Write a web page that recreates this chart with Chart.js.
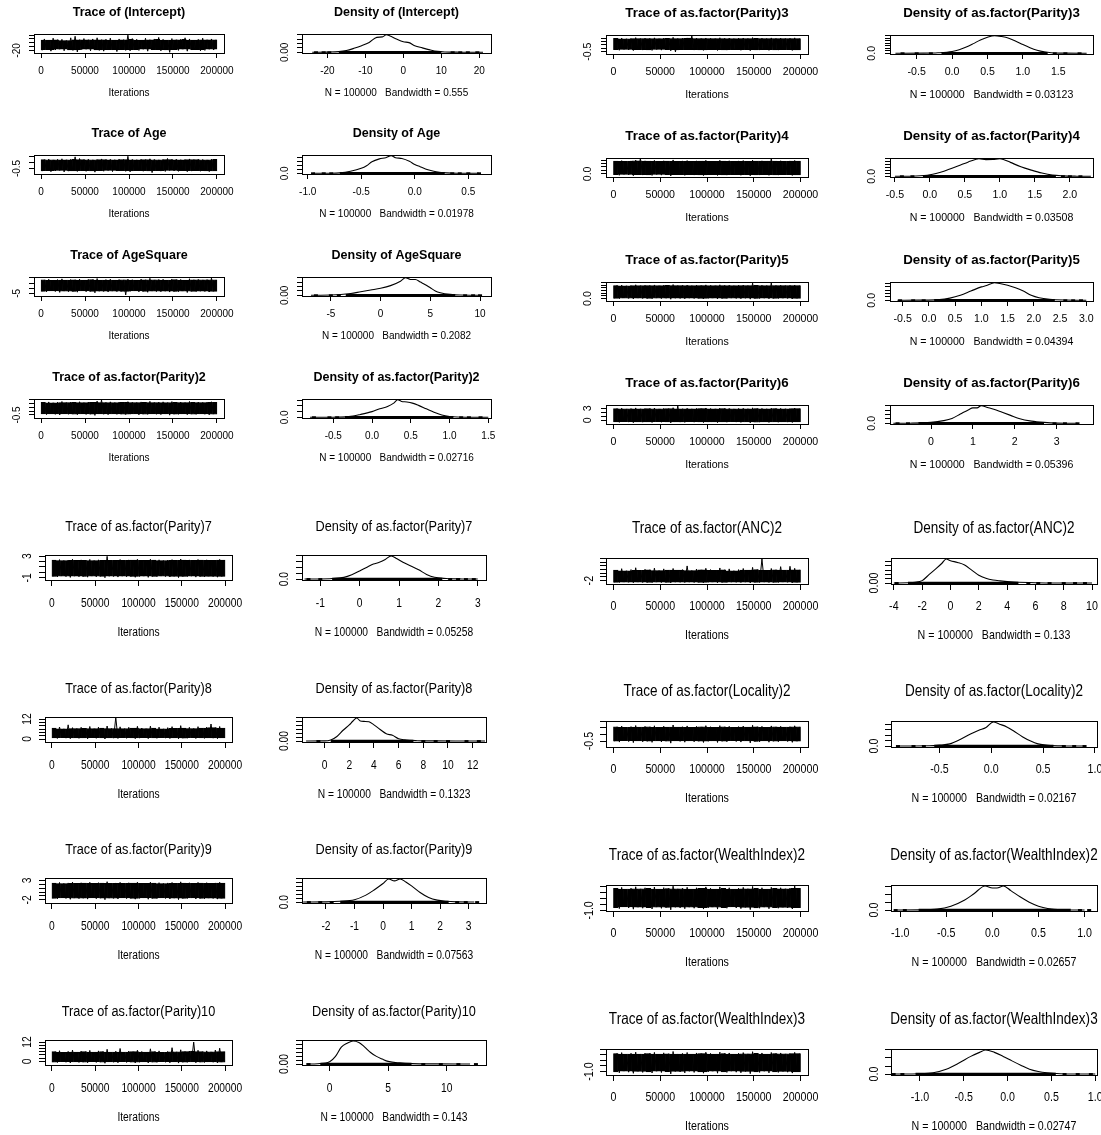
<!DOCTYPE html>
<html><head><meta charset="utf-8">
<script src="https://cdn.jsdelivr.net/npm/chart.js"></script>
<style>
html,body{margin:0;padding:0;background:#fff;width:1101px;height:1135px;overflow:hidden;position:relative}
canvas{position:absolute}
</style></head><body>
<script>
// ---------------- DATA ----------------
const ITER_TICKS = ["0","50000","100000","150000","200000"];
const ITER_RANGE = [-8000, 208000];
const BIN_X = [2500,7500,12500,17500,22500,27500,32500,37500,42500,47500,52500,57500,62500,67500,72500,77500,82500,87500,92500,97500,102500,107500,112500,117500,122500,127500,132500,137500,142500,147500,152500,157500,162500,167500,172500,177500,182500,187500,192500,197500];

// (Intercept)
const INT_lo = [-20,-18,-22,-19,-17,-21,-19,-20,-24,-18,-17,-21,-19,-20,-22,-18,-19,-23,-18,-20,-21,-18,-20,-17,-22,-19,-18,-21,-19,-25,-18,-20,-17,-22,-19,-18,-21,-20,-17,-19];
const INT_hi = [10,7,12,8,9,6,13,17,8,11,8,10,13,8,9,12,7,10,8,20,11,9,7,12,8,10,14,9,7,11,8,9,13,10,7,9,12,8,10,8];
const INT_yr = [-26.8, 23];
const INT_ty = ["-20","-10","0","10","20"];
const INT_tyl = ["-20"];
const INT_dx = [-24,-20,-17,-15,-13,-11,-9,-7,-5.5,-4.5,-3.5,-2,0,1.5,3,5,7,9,11,15,21];
const INT_dy = [0.0003,0.001,0.003,0.008,0.018,0.03,0.045,0.068,0.07,0.08,0.074,0.062,0.048,0.044,0.03,0.02,0.011,0.004,0.0015,0.0005,0.0002];
const INT_xr = [-26.7, 23.1];
const INT_xt = ["-20","-10","0","10","20"];
const INT_dyt = ["0.00","0.02","0.04","0.06","0.08"];
const INT_rug = [-17, 10];
const INT_tail = [-23,-21,-19.5,13,15,17,19.5];

// Age
const AGE_lo = [-0.74,-0.70,-0.78,-0.72,-0.68,-0.80,-0.73,-0.71,-0.76,-0.69,-0.75,-0.72,-0.82,-0.70,-0.74,-0.68,-0.77,-0.72,-0.70,-0.75,-0.79,-0.71,-0.69,-0.74,-0.72,-0.86,-0.70,-0.73,-0.76,-0.68,-0.72,-0.75,-0.70,-0.78,-0.73,-0.69,-0.74,-0.71,-0.77,-0.72];
const AGE_hi = [0.26,0.30,0.24,0.28,0.33,0.25,0.29,0.50,0.35,0.26,0.30,0.24,0.28,0.32,0.26,0.29,0.25,0.31,0.27,0.55,0.28,0.25,0.30,0.26,0.33,0.28,0.24,0.29,0.36,0.27,0.30,0.25,0.28,0.32,0.26,0.29,0.27,0.24,0.30,0.28];
const AGE_yr = [-0.98, 0.66];
const AGE_ty = ["-0.5","0.0","0.5"];
const AGE_tyl = ["-0.5"];
const AGE_dx = [-0.95,-0.8,-0.7,-0.6,-0.5,-0.45,-0.4,-0.33,-0.27,-0.22,-0.18,-0.12,-0.05,0.0,0.05,0.1,0.15,0.2,0.3,0.4,0.6];
const AGE_dy = [0.003,0.01,0.05,0.25,0.62,0.95,1.45,1.8,1.95,2.2,1.95,1.85,1.5,1.1,0.82,0.55,0.35,0.2,0.05,0.01,0.003];
const AGE_xr = [-1.053, 0.712];
const AGE_xt = ["-1.0","-0.5","0.0","0.5"];
const AGE_dyt = ["0.0","0.5","1.0","1.5","2.0"];
const AGE_rug = [-0.7, 0.28];
const AGE_tail = [-0.95,-0.85,-0.78,0.35,0.42,0.5,0.6];

// AgeSquare
const AGS_lo = [-3.0,-3.5,-2.6,-3.2,-4.0,-2.8,-3.3,-3.1,-3.8,-2.7,-3.4,-3.0,-4.4,-2.9,-3.2,-3.6,-2.8,-3.3,-3.0,-6.5,-3.1,-2.7,-3.5,-3.0,-3.9,-2.8,-3.2,-3.4,-2.9,-3.7,-3.1,-3.3,-2.8,-4.1,-3.0,-3.4,-2.9,-3.2,-3.6,-3.0];
const AGS_hi = [8.0,8.6,7.7,8.3,9.0,7.9,8.4,8.1,8.8,7.8,8.5,8.2,9.3,7.9,8.3,8.7,7.8,8.4,8.0,8.6,8.2,7.9,8.8,8.1,9.5,8.0,8.3,8.6,7.9,8.9,8.2,8.4,7.8,9.1,8.1,8.5,8.0,8.3,9.8,8.0];
const AGS_yr = [-7.5, 10.8];
const AGS_ty = ["-5","0","5","10"];
const AGS_tyl = ["-5"];
const AGS_dx = [-7,-5,-3,-2,-1,0,1,2,2.5,3,3.5,4,4.5,5,5.5,6,7,8,10];
const AGS_dy = [0.001,0.003,0.02,0.04,0.06,0.08,0.11,0.16,0.2,0.18,0.18,0.15,0.12,0.085,0.05,0.03,0.01,0.003,0.001];
const AGS_xr = [-7.9, 11.1];
const AGS_xt = ["-5","0","5","10"];
const AGS_dyt = ["0.00","0.05","0.10","0.15","0.20"];
const AGS_rug = [-3.5, 7.5];
const AGS_tail = [-6.5,-5,-4.2,8.5,9.3,10];

// as.factor(Parity)2
const P2_lo = [-0.38,-0.45,-0.35,-0.42,-0.50,-0.37,-0.41,-0.39,-0.47,-0.36,-0.43,-0.40,-0.55,-0.37,-0.41,-0.46,-0.36,-0.42,-0.39,-0.44,-0.40,-0.36,-0.48,-0.39,-0.43,-0.37,-0.41,-0.45,-0.38,-0.52,-0.40,-0.42,-0.36,-0.46,-0.39,-0.43,-0.37,-0.41,-0.47,-0.39];
const P2_hi = [1.10,1.15,1.05,1.12,1.20,1.07,1.13,1.09,1.17,1.06,1.14,1.11,1.25,1.40,1.08,1.16,1.06,1.13,1.09,1.18,1.10,1.07,1.15,1.09,1.22,1.08,1.12,1.16,1.06,1.19,1.10,1.13,1.07,1.21,1.09,1.14,1.08,1.12,1.17,1.09];
const P2_yr = [-0.88, 1.52];
const P2_ty = ["-0.5","0.0","0.5","1.0","1.5"];
const P2_tyl = ["-0.5"];
const P2_dx = [-0.8,-0.5,-0.3,-0.15,0,0.1,0.2,0.28,0.33,0.38,0.45,0.52,0.6,0.7,0.8,0.9,1.0,1.1,1.3,1.5];
const P2_dy = [0.002,0.01,0.06,0.25,0.5,0.75,0.95,1.25,1.55,1.4,1.35,1.25,1.05,0.75,0.45,0.2,0.07,0.02,0.005,0.002];
const P2_xr = [-0.904, 1.535];
const P2_xt = ["-0.5","0.0","0.5","1.0","1.5"];
const P2_dyt = ["0.0","0.5","1.0","1.5"];
const P2_rug = [-0.35, 1.05];
const P2_tail = [-0.75,-0.55,-0.45,1.15,1.25,1.4];

// as.factor(Parity)3
const P3_lo = [-0.22,-0.30,-0.18,-0.26,-0.34,-0.20,-0.27,-0.24,-0.32,-0.19,-0.28,-0.23,-0.38,-0.55,-0.26,-0.21,-0.20,-0.27,-0.24,-0.31,-0.25,-0.21,-0.33,-0.24,-0.28,-0.20,-0.26,-0.30,-0.22,-0.36,-0.25,-0.27,-0.21,-0.31,-0.24,-0.28,-0.22,-0.26,-0.32,-0.24];
const P3_hi = [1.45,1.50,1.40,1.47,1.56,1.42,1.48,1.44,1.53,1.41,1.49,1.46,1.60,1.43,1.47,1.52,1.85,1.48,1.44,1.51,1.45,1.42,1.54,1.44,1.49,1.41,1.47,1.51,1.43,1.57,1.45,1.48,1.42,1.52,1.44,1.49,1.43,1.47,1.53,1.44];
const P3_yr = [-0.85, 1.95];
const P3_ty = ["-0.5","0.0","0.5","1.0","1.5"];
const P3_tyl = ["-0.5"];
const P3_dx = [-0.8,-0.4,-0.2,0,0.1,0.2,0.3,0.4,0.5,0.6,0.7,0.8,0.9,1.0,1.1,1.2,1.3,1.4,1.6,1.9];
const P3_dy = [0.002,0.01,0.04,0.14,0.28,0.5,0.78,1.08,1.3,1.42,1.35,1.22,0.98,0.7,0.45,0.25,0.12,0.05,0.01,0.002];
const P3_xr = [-0.877, 1.99];
const P3_xt = ["-0.5","0.0","0.5","1.0","1.5"];
const P3_dyt = ["0.0","0.2","0.4","0.6","0.8","1.0","1.2","1.4"];
const P3_rug = [-0.15, 1.35];
const P3_tail = [-0.7,-0.5,-0.3,1.45,1.6,1.8];

// as.factor(Parity)4
const P4_lo = [-0.12,-0.20,-0.08,-0.16,-0.26,-0.10,-0.17,-0.14,-0.22,-0.09,-0.18,-0.13,-0.30,-0.11,-0.16,-0.21,-0.10,-0.17,-0.14,-0.24,-0.15,-0.11,-0.23,-0.14,-0.18,-0.10,-0.16,-0.20,-0.12,-0.28,-0.15,-0.17,-0.11,-0.21,-0.14,-0.18,-0.12,-0.16,-0.22,-0.14];
const P4_hi = [1.85,1.92,1.80,1.88,1.98,2.25,1.89,1.84,1.95,1.81,1.90,1.86,2.02,1.83,1.88,1.93,1.81,1.89,1.85,1.96,1.86,1.82,1.97,1.85,1.90,1.81,1.88,1.93,1.83,1.99,1.86,1.89,1.84,2.25,1.85,1.90,1.83,1.88,1.94,1.85];
const P4_yr = [-0.45, 2.3];
const P4_ty = ["0.0","0.5","1.0","1.5","2.0"];
const P4_tyl = ["0.0"];
const P4_dx = [-0.5,-0.2,0,0.2,0.4,0.55,0.65,0.7,0.8,0.9,1.0,1.05,1.15,1.3,1.45,1.6,1.75,1.9,2.1,2.3];
const P4_dy = [0.002,0.02,0.1,0.35,0.7,0.98,1.15,1.2,1.14,1.15,1.2,1.15,0.95,0.65,0.42,0.22,0.08,0.03,0.008,0.002];
const P4_xr = [-0.57, 2.33];
const P4_xt = ["-0.5","0.0","0.5","1.0","1.5","2.0"];
const P4_dyt = ["0.0","0.2","0.4","0.6","0.8","1.0","1.2"];
const P4_rug = [-0.1, 1.8];
const P4_tail = [-0.4,-0.25,1.9,2.0,2.15];

// as.factor(Parity)5
const P5_lo = [0.05,-0.03,0.10,0.02,-0.08,0.08,0.01,0.04,-0.05,0.09,0.00,0.06,-0.12,0.07,0.02,-0.04,0.08,0.01,0.04,-0.06,0.03,0.08,-0.07,0.04,0.00,0.09,0.02,-0.03,0.06,-0.10,0.03,0.01,0.07,-0.04,0.04,0.00,0.06,0.02,-0.05,0.04];
const P5_hi = [2.45,2.52,2.40,2.48,2.58,2.42,2.49,2.44,2.55,2.41,2.50,2.46,2.62,2.43,2.48,2.53,2.41,2.49,2.45,2.56,2.46,2.42,2.57,2.45,2.50,2.41,2.48,2.53,2.43,2.90,2.46,2.49,2.42,2.95,2.45,2.50,2.43,2.48,2.54,2.45];
const P5_yr = [-0.45, 3.1];
const P5_ty = ["0.0","0.5","1.0","1.5","2.0","2.5","3.0"];
const P5_tyl = ["0.0"];
const P5_dx = [-0.6,-0.2,0.2,0.4,0.6,0.8,1.0,1.1,1.25,1.35,1.5,1.65,1.8,1.95,2.1,2.3,2.6,3.0];
const P5_dy = [0.002,0.01,0.04,0.13,0.3,0.55,0.8,0.88,1.05,1.0,0.9,0.75,0.55,0.3,0.15,0.06,0.015,0.003];
const P5_xr = [-0.742, 3.128];
const P5_xt = ["-0.5","0.0","0.5","1.0","1.5","2.0","2.5","3.0"];
const P5_dyt = ["0.0","0.2","0.4","0.6","0.8","1.0"];
const P5_rug = [0.1, 2.4];
const P5_tail = [-0.55,-0.3,-0.1,2.6,2.75,2.9];

// as.factor(Parity)6
const P6_lo = [-0.40,-0.50,-0.33,-0.43,-0.56,-0.36,-0.45,-0.40,-0.52,-0.34,-0.46,-0.39,-0.62,-0.37,-0.43,-0.50,-0.35,-0.45,-0.41,-0.54,-0.42,-0.36,-0.55,-0.41,-0.46,-0.34,-0.43,-0.49,-0.38,-0.60,-0.42,-0.45,-0.36,-0.51,-0.41,-0.46,-0.38,-0.43,-0.52,-0.41];
const P6_hi = [2.90,3.00,2.83,2.93,3.08,2.86,2.95,2.90,3.04,2.84,2.96,2.89,3.12,3.65,2.87,3.00,2.85,2.95,2.91,3.06,2.92,2.86,3.05,2.91,2.96,2.84,2.93,2.99,2.88,3.10,2.92,2.95,2.86,3.01,2.91,2.96,2.88,2.93,3.02,2.91];
const P6_yr = [-0.9, 3.8];
const P6_ty = ["0","1","2","3"];
const P6_tyl = ["0","3"];
const P6_dx = [-0.9,-0.5,0,0.3,0.5,0.7,0.9,1.0,1.1,1.2,1.35,1.5,1.7,1.9,2.1,2.4,2.7,3.0,3.5];
const P6_dy = [0.001,0.005,0.04,0.12,0.22,0.42,0.62,0.7,0.7,0.8,0.72,0.64,0.5,0.36,0.22,0.1,0.04,0.01,0.002];
const P6_xr = [-0.98, 3.87];
const P6_xt = ["0","1","2","3"];
const P6_dyt = ["0.0","0.2","0.4","0.6","0.8"];
const P6_rug = [-0.3, 2.7];
const P6_tail = [-0.8,-0.55,2.95,3.2,3.5];

// as.factor(Parity)7
const P7_lo = [-0.75,-0.85,-0.68,-0.78,-0.92,-0.70,-0.80,-0.74,-0.88,-0.69,-0.81,-0.73,-0.98,-0.71,-0.77,-0.86,-0.70,-0.80,-0.75,-0.90,-0.76,-0.70,-0.91,-0.75,-0.81,-0.68,-0.77,-0.84,-0.72,-0.96,-0.76,-0.80,-0.70,-0.87,-0.75,-0.81,-0.72,-0.77,-0.88,-0.75];
const P7_hi = [2.25,2.35,2.18,2.28,2.42,2.20,2.30,2.24,2.38,2.19,2.31,2.23,2.95,2.21,2.27,2.36,2.20,2.30,2.25,2.40,2.26,2.20,2.41,2.25,2.31,2.18,2.27,2.34,2.22,2.46,2.26,2.30,2.20,2.37,2.25,2.31,2.22,2.27,2.38,2.25];
const P7_yr = [-1.4, 3.2];
const P7_ty = ["-1","0","1","2","3"];
const P7_tyl = ["-1","3"];
const P7_dx = [-1.4,-1,-0.7,-0.4,-0.2,0,0.2,0.35,0.5,0.65,0.8,0.95,1.1,1.3,1.5,1.7,1.9,2.2,2.6,3.0];
const P7_dy = [0.001,0.005,0.02,0.06,0.15,0.28,0.42,0.52,0.58,0.68,0.8,0.7,0.58,0.45,0.32,0.16,0.06,0.02,0.005,0.002];
const P7_xr = [-1.465, 3.21];
const P7_xt = ["-1","0","1","2","3"];
const P7_dyt = ["0.0","0.2","0.4","0.6","0.8"];
const P7_rug = [-0.7, 2.1];
const P7_tail = [-1.3,-1.0,2.3,2.5,2.7,2.9];

// as.factor(Parity)8
const P8_lo = [0.6,0.3,0.8,0.5,0.2,0.7,0.4,0.6,0.1,0.8,0.4,0.6,0.0,0.7,0.5,0.3,0.8,0.4,0.6,0.2,0.5,0.8,0.2,0.6,0.4,0.8,0.5,0.3,0.7,0.1,0.5,0.4,0.8,0.3,0.6,0.4,0.7,0.5,0.2,0.6];
const P8_hi = [6.5,7.2,6.1,8.5,6.8,6.3,7.0,6.4,7.5,6.2,7.1,6.6,7.8,6.3,13.0,7.3,6.2,7.0,6.5,7.6,6.6,6.2,7.7,6.5,7.1,6.1,6.8,7.4,6.4,8.0,6.6,7.0,6.3,7.4,6.5,7.1,9.0,6.8,7.5,6.5];
const P8_yr = [-1.8, 13.2];
const P8_ty = ["0","2","4","6","8","10","12"];
const P8_tyl = ["0","12"];
const P8_dx = [-1.5,0,0.5,1,1.5,2,2.3,2.6,2.9,3.2,3.6,4,4.5,5,5.5,6,6.5,7.5,9,11,13];
const P8_dy = [0.0005,0.002,0.015,0.06,0.14,0.21,0.26,0.30,0.26,0.255,0.25,0.21,0.15,0.095,0.075,0.03,0.015,0.005,0.002,0.001,0.0005];
const P8_xr = [-1.83, 13.08];
const P8_xt = ["0","2","4","6","8","10","12"];
const P8_dyt = ["0.00","0.05","0.10","0.15","0.20","0.25","0.30"];
const P8_rug = [0.5, 7.2];
const P8_tail = [-0.5,8,9,10,11.5,12.5];

// as.factor(Parity)9
const P9_lo = [-1.60,-1.75,-1.50,-1.64,-1.85,-1.54,-1.68,-1.58,-1.80,-1.52,-1.70,-1.57,-1.95,-1.55,-1.63,-1.78,-1.52,-1.68,-1.60,-1.82,-1.62,-1.53,-1.83,-1.60,-1.70,-1.50,-1.64,-1.75,-1.56,-1.92,-1.62,-1.68,-1.53,-1.78,-1.60,-1.70,-1.56,-1.64,-1.80,-1.60];
const P9_hi = [2.30,2.45,2.20,2.34,2.55,2.24,2.38,2.28,2.50,2.22,2.40,2.27,2.65,2.25,2.33,2.48,2.22,2.38,2.30,2.52,2.32,2.23,2.53,2.30,2.40,2.20,2.34,2.45,2.26,2.62,2.32,2.38,2.23,2.48,2.30,2.40,2.26,2.34,2.50,2.30];
const P9_yr = [-2.8, 3.6];
const P9_ty = ["-2","-1","0","1","2","3"];
const P9_tyl = ["-2","3"];
const P9_dx = [-2.8,-2,-1.5,-1,-0.6,-0.3,0,0.2,0.4,0.6,0.8,1.0,1.3,1.6,1.9,2.2,2.6,3.2];
const P9_dy = [0.001,0.005,0.02,0.06,0.18,0.32,0.48,0.6,0.55,0.6,0.52,0.42,0.25,0.12,0.05,0.02,0.005,0.001];
const P9_xr = [-2.84, 3.61];
const P9_xt = ["-2","-1","0","1","2","3"];
const P9_dyt = ["0.0","0.1","0.2","0.3","0.4","0.5","0.6"];
const P9_rug = [-1.5, 2.3];
const P9_tail = [-2.6,-2.2,-1.8,2.6,2.9,3.3];

// as.factor(Parity)10
const P10_lo = [-0.5,-0.8,-0.3,-0.6,-1.0,-0.4,-0.7,-0.5,-0.9,-0.3,-0.7,-0.5,-1.2,-0.4,-0.6,-0.9,-0.3,-0.7,-0.5,-1.0,-0.6,-0.4,-1.0,-0.5,-0.7,-0.3,-0.6,-0.9,-0.4,-1.1,-0.6,-0.7,-0.4,-0.9,-0.5,-0.7,-0.4,-0.6,-0.9,-0.5];
const P10_hi = [6.0,6.6,5.6,6.2,7.0,5.8,6.4,6.0,6.8,5.7,6.5,6.0,7.5,5.8,6.3,8.0,5.7,6.4,6.0,6.9,6.1,5.8,7.8,6.0,6.5,5.6,6.2,8.5,5.9,7.2,6.1,6.4,12.0,6.9,6.0,6.5,5.9,7.0,8.2,6.0];
const P10_yr = [-2.3, 13.3];
const P10_ty = ["0","2","4","6","8","10","12"];
const P10_tyl = ["0","12"];
const P10_dx = [-2,-1,0,0.5,1,1.5,2,2.5,3,3.5,4,4.5,5,6,7,9,12];
const P10_dy = [0.001,0.005,0.03,0.1,0.22,0.27,0.3,0.28,0.22,0.15,0.1,0.065,0.035,0.015,0.006,0.002,0.001];
const P10_xr = [-2.36, 13.36];
const P10_xt = ["0","5","10"];
const P10_dyt = ["0.00","0.05","0.10","0.15","0.20","0.25","0.30"];
const P10_rug = [-0.8, 7];
const P10_tail = [-1.8,8,9.5,11,12.5];

// as.factor(ANC)2
const ANC_lo = [-2.9,-3.0,-2.8,-2.9,-3.1,-2.8,-3.0,-2.9,-3.1,-2.8,-3.0,-2.9,-3.2,-2.8,-2.9,-3.0,-2.8,-3.0,-2.9,-3.1,-2.9,-2.8,-3.1,-2.9,-3.0,-2.8,-2.9,-3.0,-2.8,-3.2,-2.9,-3.0,-2.8,-3.0,-2.9,-3.0,-2.8,-2.9,-3.1,-2.9];
const ANC_hi = [3.8,4.5,3.4,4.0,5.0,3.6,4.2,3.9,4.8,3.5,4.4,3.8,4.6,3.7,4.0,6.0,3.5,4.3,3.9,4.7,4.0,3.6,4.9,3.9,4.4,3.4,4.0,4.6,3.7,5.2,4.0,9.8,3.6,4.6,3.9,5.6,3.7,5.8,4.7,3.9];
const ANC_yr = [-3.8, 10.3];
const ANC_ty = ["-2","0","2","4","6","8","10"];
const ANC_tyl = ["-2"];
const ANC_dx = [-4,-3,-2.5,-2,-1.5,-1,-0.6,-0.3,0,0.5,1,1.5,2,2.5,3,3.5,4.5,6,8,10];
const ANC_dy = [0.0005,0.003,0.008,0.028,0.1,0.17,0.23,0.28,0.26,0.24,0.21,0.15,0.09,0.055,0.035,0.025,0.012,0.004,0.001,0.0005];
const ANC_xr = [-4.2, 10.35];
const ANC_xt = ["-4","-2","0","2","4","6","8","10"];
const ANC_dyt = ["0.00","0.05","0.10","0.15","0.20","0.25"];
const ANC_rug = [-3, 4.8];
const ANC_tail = [-3.8,5.5,6.2,7,8,8.8,9.5];

// as.factor(Locality)2
const LOC_lo = [-0.52,-0.58,-0.48,-0.54,-0.62,-0.50,-0.56,-0.52,-0.60,-0.49,-0.57,-0.51,-0.66,-0.50,-0.53,-0.59,-0.49,-0.56,-0.52,-0.61,-0.53,-0.49,-0.61,-0.52,-0.56,-0.48,-0.54,-0.58,-0.50,-0.64,-0.53,-0.56,-0.49,-0.59,-0.52,-0.56,-0.50,-0.54,-0.60,-0.52];
const LOC_hi = [0.56,0.62,0.52,0.58,0.66,0.54,0.60,0.56,0.64,0.53,0.61,0.55,0.70,0.54,0.57,0.63,0.53,0.60,0.56,0.65,0.57,0.53,0.65,0.56,0.60,0.52,0.58,0.62,0.54,0.68,0.57,0.60,0.53,0.63,0.56,0.60,0.54,0.58,0.64,0.56];
const LOC_yr = [-0.95, 1.0];
const LOC_ty = ["-0.5","0.0","0.5","1.0"];
const LOC_tyl = ["-0.5"];
const LOC_dx = [-0.9,-0.6,-0.5,-0.4,-0.3,-0.2,-0.12,-0.05,0.02,0.08,0.15,0.22,0.3,0.38,0.45,0.55,0.7,0.9];
const LOC_dy = [0.002,0.02,0.08,0.2,0.6,1.1,1.45,1.7,2.2,2.0,1.75,1.35,0.85,0.45,0.2,0.06,0.01,0.002];
const LOC_xr = [-0.967, 1.02];
const LOC_xt = ["-0.5","0.0","0.5","1.0"];
const LOC_dyt = ["0.0","0.5","1.0","1.5","2.0"];
const LOC_rug = [-0.55, 0.6];
const LOC_tail = [-0.9,-0.75,-0.65,0.7,0.8,0.9];

// as.factor(WealthIndex)2
const WI2_lo = [-0.78,-0.85,-0.72,-0.80,-0.90,-0.74,-0.82,-0.78,-0.88,-0.73,-0.83,-0.76,-0.95,-0.74,-0.79,-0.86,-0.73,-0.82,-0.78,-0.89,-0.79,-0.73,-0.89,-0.78,-0.82,-0.72,-0.80,-0.85,-0.75,-0.93,-0.79,-0.82,-0.73,-0.86,-0.78,-0.82,-0.75,-0.80,-0.88,-0.78];
const WI2_hi = [0.82,0.90,0.76,0.84,0.95,0.78,0.87,0.82,0.93,0.77,0.88,0.81,1.00,0.78,0.83,0.91,0.77,0.87,0.82,0.94,0.83,0.77,0.94,0.82,0.87,0.76,0.84,0.90,0.79,0.98,0.83,0.87,0.77,0.91,0.82,0.87,0.79,0.84,1.05,0.82];
const WI2_yr = [-1.05, 1.1];
const WI2_ty = ["-1.0","-0.5","0.0","0.5","1.0"];
const WI2_tyl = ["-1.0"];
const WI2_dx = [-1.05,-0.8,-0.6,-0.45,-0.3,-0.2,-0.08,0,0.05,0.12,0.2,0.3,0.4,0.5,0.6,0.75,1.0];
const WI2_dy = [0.002,0.01,0.06,0.25,0.65,1.05,1.55,1.42,1.42,1.55,1.25,0.85,0.5,0.25,0.1,0.02,0.003];
const WI2_xr = [-1.1, 1.135];
const WI2_xt = ["-1.0","-0.5","0.0","0.5","1.0"];
const WI2_dyt = ["0.0","0.5","1.0","1.5"];
const WI2_rug = [-0.8, 0.85];
const WI2_tail = [-1.05,-0.95,0.95,1.05];

// as.factor(WealthIndex)3
const WI3_lo = [-1.02,-1.10,-0.96,-1.05,-1.15,-0.98,-1.07,-1.02,-1.12,-0.97,-1.08,-1.00,-1.20,-0.98,-1.03,-1.11,-0.97,-1.07,-1.02,-1.14,-1.03,-0.97,-1.14,-1.02,-1.07,-0.96,-1.05,-1.10,-0.99,-1.18,-1.03,-1.07,-0.97,-1.11,-1.02,-1.07,-0.99,-1.05,-1.13,-1.02];
const WI3_hi = [0.60,0.68,0.54,0.62,0.72,0.56,0.64,0.60,0.70,0.55,0.66,0.58,0.78,0.56,0.61,0.69,0.55,0.65,0.60,0.71,0.61,0.55,0.72,0.60,0.65,0.54,0.62,0.68,0.57,0.76,0.61,0.65,0.55,0.69,0.60,0.65,0.57,0.62,0.70,0.60];
const WI3_yr = [-1.3, 1.0];
const WI3_ty = ["-1.0","-0.5","0.0","0.5","1.0"];
const WI3_tyl = ["-1.0"];
const WI3_dx = [-1.3,-1.0,-0.85,-0.7,-0.55,-0.42,-0.32,-0.25,-0.15,-0.05,0.05,0.15,0.25,0.35,0.45,0.6,0.8,1.0];
const WI3_dy = [0.002,0.02,0.08,0.3,0.7,1.1,1.35,1.5,1.35,1.1,0.82,0.55,0.3,0.16,0.08,0.02,0.005,0.002];
const WI3_xr = [-1.33, 1.02];
const WI3_xt = ["-1.0","-0.5","0.0","0.5","1.0"];
const WI3_dyt = ["0.0","0.5","1.0","1.5"];
const WI3_rug = [-1.05, 0.55];
const WI3_tail = [-1.3,-1.2,0.65,0.8,0.95];

// ---------------- LAYOUT ----------------
const FONT_REG = "'Liberation Sans', Arial, sans-serif";
const QUAD = {
  TL:{sx:1,fam:FONT_REG,titleW:'bold',titleS:12.5,titleD:21,tickS:10,tickC:18,subS:10,subC:40,yLabS:10,yOff:17,tickLen:5,M:34,boxH:19,traceX:34,traceW:190,densX:302,densW:189,tops:[34,155,277,399]},
  TR:{sx:1,fam:FONT_REG,titleW:'bold',titleS:13.3,titleD:22,tickS:10.6,tickC:18.5,subS:10.6,subC:40.5,yLabS:10.6,yOff:18,tickLen:5,M:34,boxH:19,traceX:606,traceW:202,densX:890,densW:203,tops:[35,158,282,405]},
  BL:{sx:0.82,fam:FONT_REG,titleW:'normal',titleS:15.5,titleD:28,tickS:12.5,tickC:24,subS:12.5,subC:53,yLabS:12.5,yOff:17,tickLen:6,M:40,boxH:25,traceX:45,traceW:187,densX:302,densW:184,tops:[555,717,878,1040]},
  BR:{sx:0.82,fam:FONT_REG,titleW:'normal',titleS:16.5,titleD:30,tickS:13,tickC:22,subS:13,subC:51,yLabS:13,yOff:17,tickLen:6,M:40,boxH:26,traceX:606,traceW:202,densX:891,densW:206,tops:[558,721,885,1049]}
};

const PARAMS = [
  {q:'TL',row:0,name:'(Intercept)',bw:'0.555',lo:INT_lo,hi:INT_hi,yr:INT_yr,ty:INT_ty,tyl:INT_tyl,dx:INT_dx,dy:INT_dy,xr:INT_xr,xt:INT_xt,dyt:INT_dyt,rug:INT_rug,tail:INT_tail},
  {q:'TL',row:1,name:'Age',bw:'0.01978',lo:AGE_lo,hi:AGE_hi,yr:AGE_yr,ty:AGE_ty,tyl:AGE_tyl,dx:AGE_dx,dy:AGE_dy,xr:AGE_xr,xt:AGE_xt,dyt:AGE_dyt,rug:AGE_rug,tail:AGE_tail},
  {q:'TL',row:2,name:'AgeSquare',bw:'0.2082',lo:AGS_lo,hi:AGS_hi,yr:AGS_yr,ty:AGS_ty,tyl:AGS_tyl,dx:AGS_dx,dy:AGS_dy,xr:AGS_xr,xt:AGS_xt,dyt:AGS_dyt,rug:AGS_rug,tail:AGS_tail},
  {q:'TL',row:3,name:'as.factor(Parity)2',bw:'0.02716',lo:P2_lo,hi:P2_hi,yr:P2_yr,ty:P2_ty,tyl:P2_tyl,dx:P2_dx,dy:P2_dy,xr:P2_xr,xt:P2_xt,dyt:P2_dyt,rug:P2_rug,tail:P2_tail},
  {q:'TR',row:0,name:'as.factor(Parity)3',bw:'0.03123',lo:P3_lo,hi:P3_hi,yr:P3_yr,ty:P3_ty,tyl:P3_tyl,dx:P3_dx,dy:P3_dy,xr:P3_xr,xt:P3_xt,dyt:P3_dyt,rug:P3_rug,tail:P3_tail},
  {q:'TR',row:1,name:'as.factor(Parity)4',bw:'0.03508',lo:P4_lo,hi:P4_hi,yr:P4_yr,ty:P4_ty,tyl:P4_tyl,dx:P4_dx,dy:P4_dy,xr:P4_xr,xt:P4_xt,dyt:P4_dyt,rug:P4_rug,tail:P4_tail},
  {q:'TR',row:2,name:'as.factor(Parity)5',bw:'0.04394',lo:P5_lo,hi:P5_hi,yr:P5_yr,ty:P5_ty,tyl:P5_tyl,dx:P5_dx,dy:P5_dy,xr:P5_xr,xt:P5_xt,dyt:P5_dyt,rug:P5_rug,tail:P5_tail},
  {q:'TR',row:3,name:'as.factor(Parity)6',bw:'0.05396',lo:P6_lo,hi:P6_hi,yr:P6_yr,ty:P6_ty,tyl:P6_tyl,dx:P6_dx,dy:P6_dy,xr:P6_xr,xt:P6_xt,dyt:P6_dyt,rug:P6_rug,tail:P6_tail},
  {q:'BL',row:0,name:'as.factor(Parity)7',bw:'0.05258',lo:P7_lo,hi:P7_hi,yr:P7_yr,ty:P7_ty,tyl:P7_tyl,dx:P7_dx,dy:P7_dy,xr:P7_xr,xt:P7_xt,dyt:P7_dyt,rug:P7_rug,tail:P7_tail},
  {q:'BL',row:1,name:'as.factor(Parity)8',bw:'0.1323',lo:P8_lo,hi:P8_hi,yr:P8_yr,ty:P8_ty,tyl:P8_tyl,dx:P8_dx,dy:P8_dy,xr:P8_xr,xt:P8_xt,dyt:P8_dyt,rug:P8_rug,tail:P8_tail},
  {q:'BL',row:2,name:'as.factor(Parity)9',bw:'0.07563',lo:P9_lo,hi:P9_hi,yr:P9_yr,ty:P9_ty,tyl:P9_tyl,dx:P9_dx,dy:P9_dy,xr:P9_xr,xt:P9_xt,dyt:P9_dyt,rug:P9_rug,tail:P9_tail},
  {q:'BL',row:3,name:'as.factor(Parity)10',bw:'0.143',lo:P10_lo,hi:P10_hi,yr:P10_yr,ty:P10_ty,tyl:P10_tyl,dx:P10_dx,dy:P10_dy,xr:P10_xr,xt:P10_xt,dyt:P10_dyt,rug:P10_rug,tail:P10_tail},
  {q:'BR',row:0,name:'as.factor(ANC)2',bw:'0.133',lo:ANC_lo,hi:ANC_hi,yr:ANC_yr,ty:ANC_ty,tyl:ANC_tyl,dx:ANC_dx,dy:ANC_dy,xr:ANC_xr,xt:ANC_xt,dyt:ANC_dyt,rug:ANC_rug,tail:ANC_tail},
  {q:'BR',row:1,name:'as.factor(Locality)2',bw:'0.02167',lo:LOC_lo,hi:LOC_hi,yr:LOC_yr,ty:LOC_ty,tyl:LOC_tyl,dx:LOC_dx,dy:LOC_dy,xr:LOC_xr,xt:LOC_xt,dyt:LOC_dyt,rug:LOC_rug,tail:LOC_tail},
  {q:'BR',row:2,name:'as.factor(WealthIndex)2',bw:'0.02657',lo:WI2_lo,hi:WI2_hi,yr:WI2_yr,ty:WI2_ty,tyl:WI2_tyl,dx:WI2_dx,dy:WI2_dy,xr:WI2_xr,xt:WI2_xt,dyt:WI2_dyt,rug:WI2_rug,tail:WI2_tail},
  {q:'BR',row:3,name:'as.factor(WealthIndex)3',bw:'0.02747',lo:WI3_lo,hi:WI3_hi,yr:WI3_yr,ty:WI3_ty,tyl:WI3_tyl,dx:WI3_dx,dy:WI3_dy,xr:WI3_xr,xt:WI3_xt,dyt:WI3_dyt,rug:WI3_rug,tail:WI3_tail}
];

// ---------------- RENDER ----------------
function drawText(ctx, s, x, y, font, sx, rot) {
  ctx.save();
  ctx.translate(x, y);
  if (rot) ctx.rotate(rot);
  ctx.scale(sx, 1);
  ctx.font = font; ctx.fillStyle = '#000'; ctx.textAlign = 'center'; ctx.textBaseline = 'middle';
  ctx.fillText(s, 0, 0);
  ctx.restore();
}
const rPlugin = {
  id: 'rLabels',
  afterDraw(chart, args, opts) {
    const ctx = chart.ctx, a = chart.chartArea, ys = chart.scales.y, xs = chart.scales.x;
    ctx.save();
    ctx.strokeStyle = '#000'; ctx.lineWidth = 1;
    ctx.strokeRect(Math.round(a.left) + 0.5, Math.round(a.top) + 0.5, Math.round(a.right - a.left), Math.round(a.bottom - a.top));
    ctx.restore();
    const sx = opts.sx || 1;
    (opts.labels || []).forEach(l => {
      drawText(ctx, l, a.left - opts.offset, ys.getPixelForValue(parseFloat(l)), opts.font, sx, -Math.PI / 2);
    });
    if (opts.custom) {
      const c = opts.custom, cx = (a.left + a.right) / 2;
      drawText(ctx, c.title, cx, a.top - c.titleD, c.titleFont, sx, 0);
      (c.xt || []).forEach(t => drawText(ctx, t, xs.getPixelForValue(parseFloat(t)), a.bottom + c.tickC, c.tickFont, sx, 0));
      drawText(ctx, c.sub, cx, a.bottom + c.subC, c.subFont, sx, 0);
    }
  }
};
Chart.register(rPlugin);

function geom(st, bx, bw, bt) {
  const lhT = Math.round(st.titleS * 1.2), pt = 2, pb = Math.max(0, Math.round(st.titleD - lhT / 2));
  const topOff = pt + lhT + pb;
  const H = Math.round(st.subC + st.subS * 0.6);
  return {left: bx - st.M, top: bt - topOff, w: bw + 2 * st.M, h: topOff + st.boxH + H, M: st.M, lhT, pt, pb, H, topOff};
}
function mkCanvas(g) {
  const c = document.createElement('canvas');
  c.width = g.w; c.height = g.h;
  c.style.left = g.left + 'px'; c.style.top = g.top + 'px';
  c.style.width = g.w + 'px'; c.style.height = g.h + 'px';
  document.body.appendChild(c);
  return c;
}
function common(st, g, title, sub, xr, xt, yr, yt, ylab) {
  const narrow = st.sx < 1;
  const custom = narrow ? {
    title: title, sub: sub, xt: xt, titleD: st.titleD, tickC: st.tickC, subC: st.subC,
    titleFont: st.titleW + ' ' + st.titleS + 'px ' + st.fam,
    tickFont: st.tickS + 'px ' + st.fam,
    subFont: st.subS + 'px ' + st.fam
  } : null;
  return {
    responsive: false, animation: false, devicePixelRatio: 1, events: [],
    layout: {padding: {left: 0, right: g.M, top: narrow ? g.topOff : 0, bottom: 0}},
    plugins: {
      legend: {display: false}, tooltip: {enabled: false},
      title: {display: !narrow, text: title, fullSize: false, color: '#000',
        font: {family: st.fam, size: st.titleS, weight: st.titleW, lineHeight: g.lhT + 'px'},
        padding: {top: g.pt, bottom: g.pb}},
      rLabels: {labels: ylab, font: st.yLabS + 'px ' + st.fam, offset: st.yOff, sx: st.sx, custom: custom}
    },
    scales: {
      x: {type: 'linear', min: xr[0], max: xr[1], offset: false,
        afterBuildTicks: s => { s.ticks = xt.map(t => ({value: parseFloat(t)})); },
        afterFit: s => { s.height = g.H; },
        ticks: {display: !narrow, autoSkip: false, maxRotation: 0, minRotation: 0, color: '#000',
          font: {family: st.fam, size: st.tickS, lineHeight: 1.2},
          padding: st.tickC - st.tickLen - st.tickS * 0.6,
          callback: (v, i) => xt[i]},
        grid: {drawOnChartArea: false, drawTicks: true, tickLength: st.tickLen, color: '#000', lineWidth: 1, offset: false},
        border: {display: true, color: '#000', width: 1},
        title: {display: !narrow, text: sub, color: '#000', font: {family: st.fam, size: st.subS, lineHeight: 1.2}, padding: 0}
      },
      y: {type: 'linear', min: yr[0], max: yr[1],
        afterBuildTicks: s => { s.ticks = yt.map(t => ({value: parseFloat(t)})); },
        afterFit: s => { s.width = g.M; },
        ticks: {display: false},
        grid: {drawOnChartArea: false, drawTicks: true, tickLength: st.tickLen, color: '#000', lineWidth: 1},
        border: {display: true, color: '#000', width: 1}
      }
    }
  };
}

PARAMS.forEach(p => {
  const st = QUAD[p.q];
  // trace panel: solid core band (bars) + saw-tooth line through the bin extremes
  const n = BIN_X.length;
  const core = BIN_X.map((x, i) => {
    const a = Math.max(i > 0 ? i - 1 : i, 0), b = Math.min(i + 1, n - 1);
    return {x: x, y: [Math.max(p.lo[a], p.lo[i], p.lo[b]), Math.min(p.hi[a], p.hi[i], p.hi[b])]};
  });
  const zig = [];
  BIN_X.forEach((x, i) => { zig.push({x: x - 1250, y: p.lo[i]}); zig.push({x: x + 1250, y: p.hi[i]}); });
  const gt = geom(st, st.traceX, st.traceW, st.tops[p.row]);
  new Chart(mkCanvas(gt), {
    type: 'bar',
    data: {datasets: [
      {type: 'line', data: zig, borderColor: '#000', borderWidth: 1, pointRadius: 0, tension: 0, fill: false},
      {data: core, backgroundColor: '#000', borderColor: '#000', borderWidth: 0.6, borderSkipped: false,
       barPercentage: 1, categoryPercentage: 1, grouped: false}
    ]},
    options: common(st, gt, 'Trace of ' + p.name, 'Iterations', ITER_RANGE, ITER_TICKS, p.yr, p.ty, p.tyl)
  });
  // density panel
  const gd = geom(st, st.densX, st.densW, st.tops[p.row]);
  const peak = Math.max.apply(null, p.dy);
  new Chart(mkCanvas(gd), {
    type: 'line',
    data: {datasets: [
      {data: p.dx.map((x, i) => ({x: x, y: p.dy[i]})), borderColor: '#000', borderWidth: 1.1, pointRadius: 0, cubicInterpolationMode: 'monotone', fill: false},
      {data: p.rug.map(x => ({x: x, y: 0})), borderColor: '#000', borderWidth: 2.5, pointRadius: 0, fill: false},
      {data: p.tail.map(x => ({x: x, y: 0})), showLine: false, pointStyle: 'line', pointRadius: 2, pointBorderWidth: 2, pointBorderColor: '#000', borderColor: '#000'}
    ]},
    options: common(st, gd, 'Density of ' + p.name, 'N = 100000   Bandwidth = ' + p.bw, p.xr, p.xt, [-0.04 * peak, 1.04 * peak], p.dyt, [p.dyt[0]])
  });
});
</script>
</body></html>
